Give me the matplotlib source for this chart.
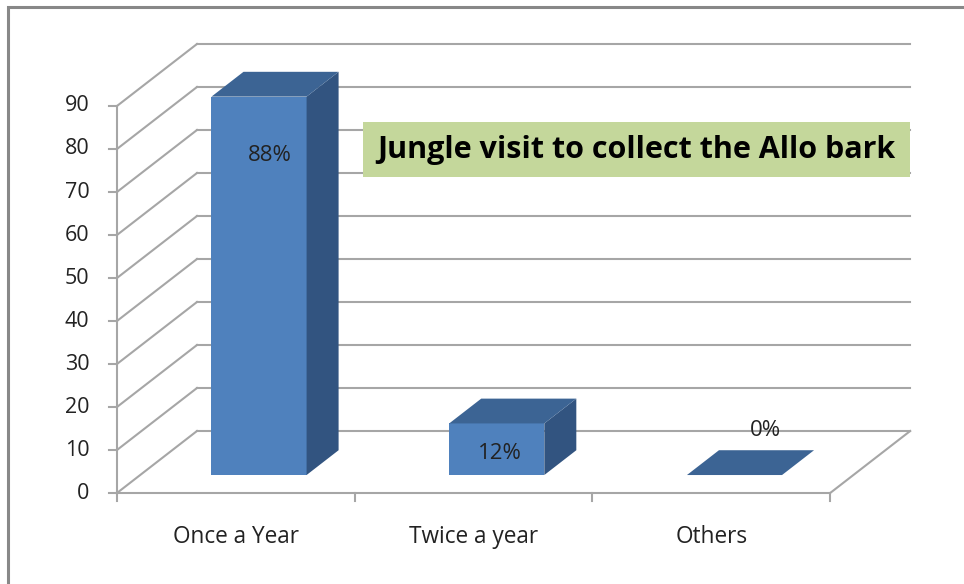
import matplotlib.pyplot as plt
from matplotlib.patches import Polygon, Rectangle

categories = ['Once a Year', 'Twice a year', 'Others']
values = [88, 12, 0]
labels = ['88%', '12%', '0%']
yticks = [0, 10, 20, 30, 40, 50, 60, 70, 80, 90]
title = 'Jungle visit to collect the Allo bark'

FRONT = '#4F81BD'
TOP = '#3C6494'
SIDE = '#325480'
GRID = '#A6A6A6'
TXT = '#222222'

# depth of the 3D box, in data units (x: categories, y: values)
DX, DY = 0.3366, 14.42
# bars sit between these depth fractions
D0, D1 = 0.29, 0.69
HALF = 0.2


def shift(x, y, d):
    return (x + d * DX, y + d * DY)


plt.rcParams['font.family'] = ['Open Sans', 'DejaVu Sans']

fig = plt.figure(figsize=(9.64, 5.84), dpi=100)
ax = fig.add_axes([0, 0, 1, 1])
ax.set_xlim(-0.992, 3.063)
ax.set_ylim(-21.16, 114.65)
ax.axis('off')

# outer chart border
fig.patches.append(Rectangle((8 / 964, -0.1), 1.2, 1 - 7 / 584 + 0.1,
                             transform=fig.transFigure, fill=False,
                             edgecolor='#888888', lw=2.2))

left, right = -0.5, len(categories) - 0.5

# walls: gridlines on the side and back
for v in yticks:
    x0, y0 = shift(left, v, 1)
    x1, _ = shift(right, v, 1)
    ax.plot([left, x0], [v, y0], color=GRID, lw=1.5, zorder=1)
    ax.plot([x0, x1], [y0, y0], color=GRID, lw=1.5, zorder=1)

# floor edges
ax.plot([left, right], [0, 0], color=GRID, lw=1.5, zorder=1)
bx, by = shift(right, 0, 1)
ax.plot([right, bx], [0, by], color=GRID, lw=1.5, zorder=1)

# value axis with ticks
ax.plot([left, left], [0, 90], color=GRID, lw=1.5, zorder=1)
for v in yticks:
    ax.plot([left - 0.034, left], [v, v], color=GRID, lw=1.5, zorder=1)
    ax.text(left - 0.115, v, str(v), ha='right', va='center',
            fontsize=15.5, color=TXT)

# category ticks and labels
for i in range(len(categories) + 1):
    ax.plot([left + i, left + i], [0, -1.8], color=GRID, lw=1.5, zorder=1)
for i, c in enumerate(categories):
    ax.text(i, -10.2, c, ha='center', va='center', fontsize=16.3, color=TXT)

# 3D bars
for i, v in enumerate(values):
    fl, fb = shift(i - HALF, 0, D0)
    fr, _ = shift(i + HALF, 0, D0)
    ft = fb + v
    bl, bb = shift(i - HALF, 0, D1)
    br, _ = shift(i + HALF, 0, D1)
    bt = bb + v
    if v > 0:
        ax.add_patch(Polygon([(fl, fb), (fr, fb), (fr, ft), (fl, ft)],
                             closed=True, facecolor=FRONT, edgecolor='none', zorder=3))
        ax.add_patch(Polygon([(fr, fb), (br, bb), (br, bt), (fr, ft)],
                             closed=True, facecolor=SIDE, edgecolor='none', zorder=3))
    ax.add_patch(Polygon([(fl, ft), (fr, ft), (br, bt), (bl, bt)],
                         closed=True, facecolor=TOP, edgecolor='none', zorder=3))

# value labels
label_pos = [(0.144, values[0] - 9.4), (1.111, values[1] - 2.7), (2.226, values[2] + 14.65)]
for (lx, ly), lab in zip(label_pos, labels):
    ax.text(lx, ly, lab, ha='center', va='center', fontsize=16,
            color=TXT, zorder=4)

# chart title in a green box
ax.add_patch(Rectangle((0.534, 73.5), 2.301, 12.8, facecolor='#C4D79B',
                       edgecolor='none', zorder=4))
ax.text(1.683, 79.7, title, ha='center', va='center', fontsize=22,
        fontweight='bold', color='black', zorder=5)

fig.savefig('out.png', dpi=100)
